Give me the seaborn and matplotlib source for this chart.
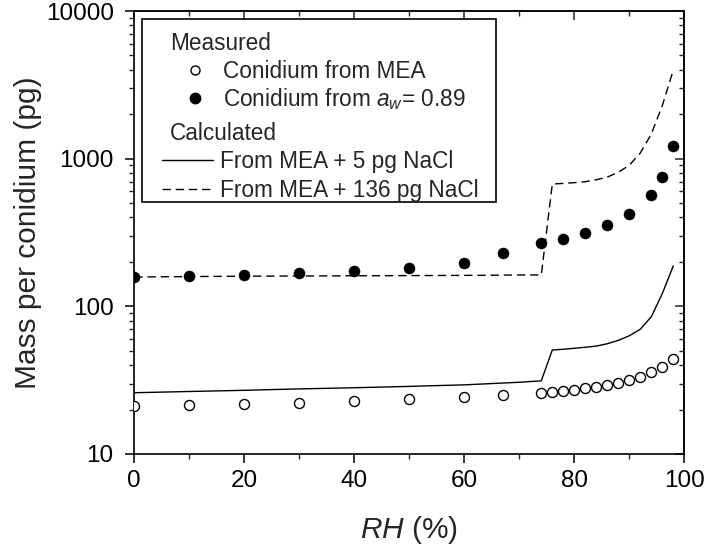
import matplotlib
matplotlib.use("Agg")
import matplotlib.pyplot as plt
from matplotlib.lines import Line2D
from matplotlib.patches import Rectangle
from matplotlib.ticker import FixedLocator, FixedFormatter, MultipleLocator, LogLocator, NullFormatter
import seaborn as sns
import pandas as pd

# ---- data ----
rh_mea = [0, 10, 20, 30, 40, 50, 60, 67, 74, 76, 78, 80, 82, 84, 86, 88, 90, 92, 94, 96, 98]
mass_mea = [21.1, 21.4, 21.8, 22.3, 22.9, 23.5, 24.4, 25.1, 25.9, 26.3, 26.8, 27.3, 28.0,
            28.6, 29.3, 30.4, 31.7, 33.4, 35.9, 39.0, 44.2]

rh_aw = [0, 10, 20, 30, 40, 50, 60, 67, 74, 78, 82, 86, 90, 94, 96, 98]
mass_aw = [158, 160, 164, 167, 173, 181, 198, 228, 270, 286, 315, 356, 422, 570, 755, 1220]

rh_calc = [0, 10, 20, 30, 40, 50, 60, 70, 74, 76, 78, 80, 82, 84, 86, 88, 90, 92, 94, 96, 98]
mass_5pg = [26.0, 26.5, 27.0, 27.6, 28.1, 28.7, 29.4, 30.6, 31.3, 50.6, 51.2, 52.0, 52.8,
            53.8, 55.8, 58.8, 63.2, 70.0, 85.0, 122, 188]
mass_136pg = [158, 159, 160, 160.5, 161, 161.5, 162, 163, 163, 673, 680, 688, 698,
              720, 750, 809, 902, 1092, 1469, 2286, 3980]

x_ticks = [0, 20, 40, 60, 80, 100]
x_ticklabels = ["0", "20", "40", "60", "80", "100"]
y_ticks = [10, 100, 1000, 10000]
y_ticklabels = ["10", "100", "1000", "10000"]

legend_measured = ["Conidium from MEA", r"Conidium from $a_{w}$= 0.89"]
legend_calc = ["From MEA + 5 pg NaCl", "From MEA + 136 pg NaCl"]

df_mea = pd.DataFrame({"rh": rh_mea, "mass": mass_mea})
df_aw = pd.DataFrame({"rh": rh_aw, "mass": mass_aw})
df_calc = pd.DataFrame({"rh": rh_calc, "m5": mass_5pg, "m136": mass_136pg})

# ---- style ----
sns.set_style("ticks")
plt.rcParams["font.family"] = ["Liberation Sans", "DejaVu Sans"]
plt.rcParams["mathtext.fontset"] = "custom"
plt.rcParams["mathtext.rm"] = "Liberation Sans"
plt.rcParams["mathtext.it"] = "Liberation Sans:italic"
plt.rcParams["axes.linewidth"] = 1.2

fig = plt.figure(figsize=(7.09, 5.48), dpi=100)
ax = fig.add_axes([134.3 / 709, 1 - 454 / 548, 550 / 709, 443 / 548])

# lines
sns.lineplot(data=df_calc, x="rh", y="m5", ax=ax, color="black", lw=1.0, zorder=2)
sns.lineplot(data=df_calc, x="rh", y="m136", ax=ax, color="black", lw=1.0, zorder=2)
ax.lines[-1].set_dashes((6, 3.5))

# points
sns.scatterplot(data=df_mea, x="rh", y="mass", ax=ax, s=52, marker="o",
                facecolor="white", edgecolor="black", linewidth=1.0, zorder=3)
sns.scatterplot(data=df_aw, x="rh", y="mass", ax=ax, s=64, marker="o",
                color="black", edgecolor="black", linewidth=0.3, zorder=3)

ax.set_yscale("log")
ax.set_xlim(0, 100)
ax.set_ylim(10, 10000)

ax.xaxis.set_major_locator(FixedLocator(x_ticks))
ax.xaxis.set_major_formatter(FixedFormatter(x_ticklabels))
ax.xaxis.set_minor_locator(MultipleLocator(10))
ax.yaxis.set_major_locator(FixedLocator(y_ticks))
ax.yaxis.set_major_formatter(FixedFormatter(y_ticklabels))
ax.yaxis.set_minor_locator(LogLocator(base=10, subs=range(2, 10)))
ax.yaxis.set_minor_formatter(NullFormatter())

ax.tick_params(axis="both", which="major", direction="out", length=6.3, width=1.1,
               labelsize=17.5, color="black", labelcolor="black")
ax.tick_params(axis="both", which="minor", direction="out", length=3.3, width=1.0)
ax.tick_params(axis="x", which="major", pad=5)
ax.tick_params(axis="y", which="major", pad=8.5)

# top / right ticks pointing inward
secx = ax.secondary_xaxis("top")
secx.xaxis.set_major_locator(FixedLocator(x_ticks))
secx.xaxis.set_minor_locator(MultipleLocator(10))
secx.tick_params(which="major", direction="in", length=6.3, width=1.1, labeltop=False)
secx.tick_params(which="minor", direction="in", length=3.3, width=1.0)
secy = ax.secondary_yaxis("right")
secy.yaxis.set_major_locator(FixedLocator(y_ticks))
secy.yaxis.set_minor_locator(LogLocator(base=10, subs=range(2, 10)))
secy.yaxis.set_minor_formatter(NullFormatter())
secy.tick_params(which="major", direction="in", length=6.3, width=1.1, labelright=False)
secy.tick_params(which="minor", direction="in", length=3.3, width=1.0)
for s in ax.spines.values():
    s.set_color("black")

ax.set_xlabel("$RH$ (%)", fontsize=21.5)
ax.set_ylabel("Mass per conidium (pg)", fontsize=21.5)
ax.xaxis.set_label_coords(0.5, -0.135)
ax.yaxis.set_label_coords(-0.168, 0.5)

# ---- legend box ----
T = ax.transAxes
ax.add_patch(Rectangle((0.014, 0.569), 0.6436, 0.413, transform=T, fill=True,
                       facecolor="white", edgecolor="black", lw=1.2, zorder=4))
fs = 16.3
ax.text(0.0649, 0.912, "Measured", transform=T, fontsize=fs, va="baseline", zorder=5)
ax.text(0.0649, 0.7088, "Calculated", transform=T, fontsize=fs, va="baseline", zorder=5)
ax.add_line(Line2D([0.1104], [0.8666], transform=T, marker="o", ms=6.5, mfc="white",
                   mec="black", mew=1.0, ls="none", zorder=5))
ax.add_line(Line2D([0.1104], [0.8041], transform=T, marker="o", ms=7.5, mfc="black",
                   mec="black", ls="none", zorder=5))
ax.text(0.1613, 0.8481, legend_measured[0], transform=T, fontsize=fs, va="baseline", zorder=5)
ax.text(0.1613, 0.7856, legend_measured[1], transform=T, fontsize=fs, va="baseline", zorder=5)
ax.add_line(Line2D([0.0504, 0.1431], [0.6634, 0.6634], transform=T, color="black",
                   lw=1.0, zorder=5))
dl = Line2D([0.0504, 0.1431], [0.5993, 0.5993], transform=T, color="black", lw=1.0, zorder=5)
dl.set_dashes((6, 3.5))
ax.add_line(dl)
ax.text(0.1558, 0.6449, legend_calc[0], transform=T, fontsize=fs, va="baseline", zorder=5)
ax.text(0.1558, 0.5808, legend_calc[1], transform=T, fontsize=fs, va="baseline", zorder=5)

fig.savefig("out.png", dpi=100)
